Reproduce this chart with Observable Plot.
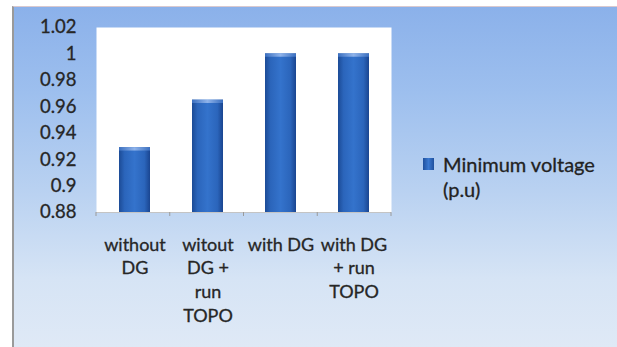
<!DOCTYPE html>
<html>
<head>
<meta charset="utf-8">
<script src="https://cdn.jsdelivr.net/npm/d3@7"></script>
<script src="https://cdn.jsdelivr.net/npm/@observablehq/plot@0.6"></script>
<style>
  html, body { margin: 0; padding: 0; background: #fff; }
  #page { position: relative; width: 617px; height: 347px; overflow: hidden; background: #fff; }
  #panel {
    position: absolute; left: 12px; top: 6px; right: 0; bottom: 0;
    border-left: 2px solid #9a9a9a; border-top: 1px solid #d9c9cf;
    background: linear-gradient(to bottom, #8bb1ea 0%, #9dbfee 25%, #bad2f1 55%, #d6e4f5 80%, #dfe9f6 100%);
  }
  #chart { position: absolute; left: 0; top: 0; }
  #chart svg text { stroke: #262626; stroke-width: 0.3px; }
  #legend {
    position: absolute; left: 423px; top: 152px;
    font-family: Lato, sans-serif; font-size: 20px; color: #222; line-height: 25px;
    -webkit-text-stroke: 0.3px #222;
  }
  #legend .swatch {
    position: absolute; left: 0; top: 6px; width: 11px; height: 12px;
    background: linear-gradient(to right, #1f509e, #3a78d0 50%, #1f509e);
  }
  #legend .label { position: absolute; left: 20px; top: 0; white-space: nowrap; }
</style>
</head>
<body>
<div id="page">
  <div id="panel"></div>
  <div id="chart"></div>
  <div id="legend"><div class="swatch"></div><div class="label">Minimum voltage<br>(p.u)</div></div>
</div>
<script>
// Scenarios and the minimum bus voltage reached in each (p.u)
const scenarios = ["without DG", "witout DG + run TOPO", "with DG", "with DG + run TOPO"];
const scenarioLabels = ["without\nDG", "witout\nDG +\nrun\nTOPO", "with DG", "with DG\n+ run\nTOPO"];
const minVoltage = [0.929, 0.965, 1.0, 1.0];
const yTicks = [0.88, 0.9, 0.92, 0.94, 0.96, 0.98, 1.0, 1.02];
const yTickLabels = ["0.88", "0.9", "0.92", "0.94", "0.96", "0.98", "1", "1.02"];

const data = scenarios.map((s, i) => ({scenario: s, value: minVoltage[i]}));
const labelOf = new Map(scenarios.map((s, i) => [s, scenarioLabels[i]]));
const yLabelOf = new Map(yTicks.map((t, i) => [t, yTickLabels[i]]));

// Small tick marks on the category boundaries below the baseline
const boundaryTicks = (index, scales, values, dim) => {
  const g = d3.create("svg:g");
  const n = scenarios.length;
  const w = (dim.width - dim.marginLeft - dim.marginRight) / n;
  const y0 = scales.y(0.88);
  for (let i = 0; i <= n; i++) {
    const x = dim.marginLeft + i * w;
    g.append("line").attr("x1", x).attr("x2", x).attr("y1", y0).attr("y2", y0 + 4)
      .attr("stroke", "#9a9a9a").attr("stroke-width", 1);
  }
  return g.node();
};

const chart = Plot.plot({
  width: 617,
  height: 347,
  marginLeft: 96,
  marginRight: 226,
  marginTop: 27,
  marginBottom: 135,
  style: {background: "transparent", fontFamily: "Lato, sans-serif", fontSize: "18px", color: "#262626"},
  x: {domain: scenarios, paddingInner: 0.58, paddingOuter: 0.29, label: null},
  y: {domain: [0.88, 1.02], label: null},
  marks: [
    Plot.frame({fill: "white", stroke: null}),
    Plot.barY(data, {x: "scenario", y1: 0.88, y2: "value", fill: "url(#barGrad)"}),
    Plot.barY(data, {x: "scenario", y1: d => d.value - 0.0025, y2: "value", fill: "url(#barTop)"}),
    Plot.ruleY([0.88], {stroke: "#c4c4c4"}),
    boundaryTicks,
    Plot.axisY({ticks: yTicks, tickFormat: d => yLabelOf.get(d), tickSize: 0, tickPadding: 20, fontSize: 18.5}),
    Plot.axisX({tickSize: 0, tickPadding: 21, tickFormat: d => labelOf.get(d), lineHeight: 1.33, fontSize: 18})
  ]
});

// Shaded fills for the bars
const defs = d3.select(chart).insert("defs", ":first-child");
const g1 = defs.append("linearGradient").attr("id", "barGrad").attr("x1", 0).attr("x2", 1).attr("y1", 0).attr("y2", 0);
g1.append("stop").attr("offset", "0%").attr("stop-color", "#1c4b96");
g1.append("stop").attr("offset", "18%").attr("stop-color", "#2b65bb");
g1.append("stop").attr("offset", "50%").attr("stop-color", "#3473cc");
g1.append("stop").attr("offset", "82%").attr("stop-color", "#2b65bb");
g1.append("stop").attr("offset", "100%").attr("stop-color", "#1a4590");
const g2 = defs.append("linearGradient").attr("id", "barTop").attr("x1", 0).attr("x2", 1).attr("y1", 0).attr("y2", 0);
g2.append("stop").attr("offset", "0%").attr("stop-color", "#3a6fc0");
g2.append("stop").attr("offset", "50%").attr("stop-color", "#8fb3ea");
g2.append("stop").attr("offset", "100%").attr("stop-color", "#3a6fc0");

document.getElementById("chart").appendChild(chart);
</script>
</body>
</html>
